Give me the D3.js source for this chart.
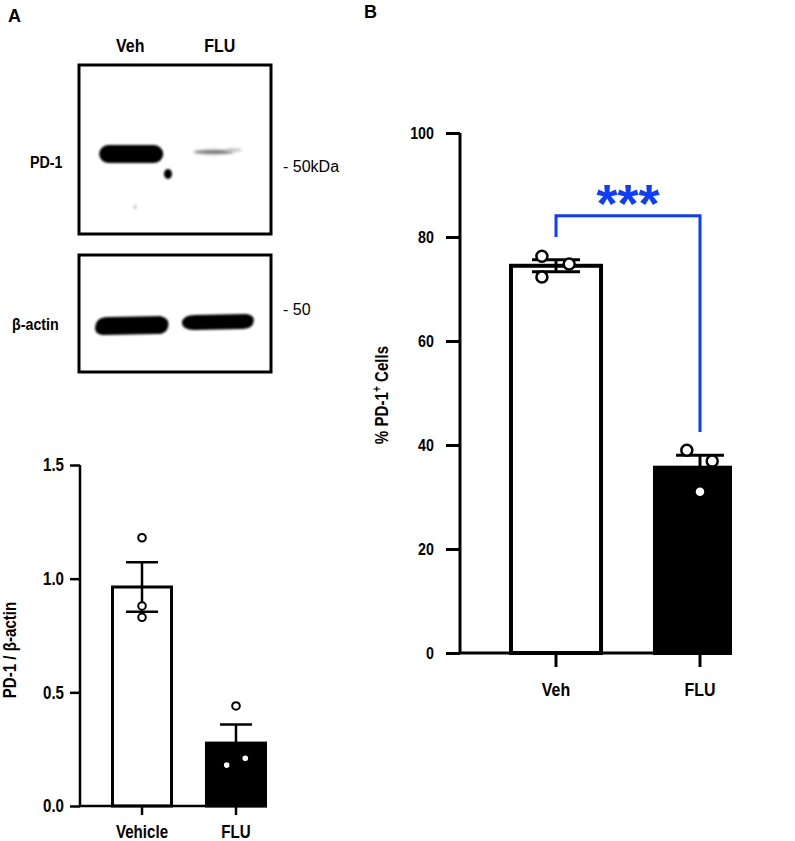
<!DOCTYPE html>
<html>
<head>
<meta charset="utf-8">
<script src="https://cdn.jsdelivr.net/npm/d3@7"></script>
<style>
  html, body { margin: 0; padding: 0; background: #fff; }
  svg { display: block; }
</style>
</head>
<body>
<div id="fig"></div>
<script>
// --- data ---
const blotLanes = ["Veh", "FLU"];

const groupsA = ["Vehicle", "FLU"];
const ratioVehicle = [1.18, 0.88, 0.83];
const ratioFlu = [0.44, 0.18, 0.21];
const ratioTicks = [0, 0.5, 1.0, 1.5];

const groupsB = ["Veh", "FLU"];
const pctVeh = [76.3, 74.8, 72.3];
const pctFlu = [39.0, 36.9, 31.0];
const pctTicks = [0, 20, 40, 60, 80, 100];

// horizontal jitter of the dots, as fraction of the bar width
const jitterA = [[0, 0, 0], [0, -0.15, 0.15]];
const jitterB = [[-0.15, 0.14, -0.15], [-0.14, 0.13, 0]];

const W = 795, H = 841;
const blue = "#0d3dff";
const font = '"Liberation Sans", Arial, sans-serif';
const SX = 0.84;   // squeeze bold text to look like a condensed face

const svg = d3.select("#fig").append("svg")
    .attr("width", W)
    .attr("height", H)
    .style("background", "#fff");

// bold condensed text: move x/y into a transform, then squeeze horizontally
function cond(sel, size, rot) {
  sel.style("font-family", font).style("font-weight", "bold").style("font-size", size + "px")
    .each(function() {
      const t = d3.select(this);
      const x = +t.attr("x") || 0, y = +t.attr("y") || 0;
      t.attr("x", 0).attr("y", 0)
       .attr("transform", `translate(${x},${y})` + (rot ? ` rotate(${rot})` : "") + ` scale(${SX},1)`);
    });
}

const defs = svg.append("defs");
defs.append("filter").attr("id", "blur").attr("x", "-20%").attr("y", "-50%").attr("width", "140%").attr("height", "200%")
  .append("feGaussianBlur").attr("stdDeviation", 1.2);
defs.append("filter").attr("id", "blur2").attr("x", "-20%").attr("y", "-100%").attr("width", "140%").attr("height", "300%")
  .append("feGaussianBlur").attr("stdDeviation", 1.6);
defs.append("clipPath").attr("id", "clipB")
  .append("rect").attr("x", 0).attr("y", 0).attr("width", 732).attr("height", H);

// panel letters
svg.append("text").attr("x", 8).attr("y", 22).text("A")
  .style("font-family", font).style("font-weight", "bold").style("font-size", "18px");
svg.append("text").attr("x", 364).attr("y", 18).text("B")
  .style("font-family", font).style("font-weight", "bold").style("font-size", "18px");

// ---------------- western blot ----------------
const lane = d3.scaleBand().domain(blotLanes).range([80, 270]).padding(0.12);
const laneC = d => lane(d) + lane.bandwidth() / 2;

svg.selectAll(".lane-label").data(blotLanes).enter().append("text")
    .attr("class", "lane-label")
    .attr("x", d => laneC(d))
    .attr("y", 52)
    .attr("text-anchor", "middle")
    .text(d => d)
    .call(cond, 19);

const blot = svg.append("g");
// boxes
blot.append("rect").attr("x", 79).attr("y", 65).attr("width", 192).attr("height", 169)
  .attr("fill", "#fff").attr("stroke", "#000").attr("stroke-width", 3);
blot.append("rect").attr("x", 79).attr("y", 255).attr("width", 192).attr("height", 117)
  .attr("fill", "#fff").attr("stroke", "#000").attr("stroke-width", 3);

// PD-1 bands
blot.append("rect").attr("x", laneC("Veh") - 31).attr("y", 145).attr("width", 64).attr("height", 18).attr("rx", 9)
  .attr("fill", "#000").attr("filter", "url(#blur)");
blot.append("ellipse").attr("cx", 168).attr("cy", 174).attr("rx", 4).attr("ry", 5)
  .attr("fill", "#000").attr("filter", "url(#blur)");
blot.append("circle").attr("cx", 135).attr("cy", 207).attr("r", 2).attr("fill", "#ccc").attr("filter", "url(#blur)");
blot.append("ellipse").attr("cx", laneC("FLU") - 6).attr("cy", 152).attr("rx", 20).attr("ry", 2.2)
  .attr("fill", "#777").attr("filter", "url(#blur2)");
blot.append("ellipse").attr("cx", laneC("FLU") + 14).attr("cy", 150).attr("rx", 8).attr("ry", 1.6)
  .attr("fill", "#bbb").attr("filter", "url(#blur2)");

// actin bands
const v = laneC("Veh"), f = laneC("FLU");
blot.append("path")
  .attr("d", `M${v - 35},327 Q${v - 34},316 ${v - 20},317 L${v + 30},316
     Q${v + 40},318 ${v + 38},327 Q${v + 36},335 ${v + 25},334
     L${v - 25},335 Q${v - 36},335 ${v - 35},327 Z`)
  .attr("fill", "#000").attr("filter", "url(#blur)");
blot.append("path")
  .attr("d", `M${f - 38},323 Q${f - 37},315 ${f - 25},315 L${f + 26},314
     Q${f + 35},315 ${f + 34},321 Q${f + 33},329 ${f + 22},329
     L${f - 26},330 Q${f - 37},330 ${f - 38},323 Z`)
  .attr("fill", "#000").attr("filter", "url(#blur)");

// row labels and markers
svg.append("text").attr("x", 30).attr("y", 168).text("PD-1").call(cond, 17);
svg.append("text").attr("x", 12).attr("y", 330).text("β-actin").call(cond, 17);
svg.append("text").attr("x", 283).attr("y", 172).text("- 50kDa")
  .style("font-family", font).style("font-size", "16px");
svg.append("text").attr("x", 283).attr("y", 315).text("- 50")
  .style("font-family", font).style("font-size", "16px");

// ---------- helpers ----------
function sem(vals) { return d3.deviation(vals) / Math.sqrt(vals.length); }

function drawBars(g, opt) {
  const {x, y, groups, series, jitter, barStroke, axisStroke, capHalf, r, dotStroke, fills} = opt;
  const bw = x.bandwidth();
  const rows = groups.map((gname, i) => ({
    name: gname, vals: series[i], mean: d3.mean(series[i]), sem: sem(series[i]), fill: fills[i], jit: jitter[i]
  }));

  g.selectAll(".bar").data(rows).enter().append("rect")
      .attr("class", "bar")
      .attr("x", d => x(d.name) + barStroke / 2)
      .attr("width", bw - barStroke)
      .attr("y", d => y(d.mean))
      .attr("height", d => y(0) - y(d.mean))
      .attr("fill", d => d.fill)
      .attr("stroke", "#000")
      .attr("stroke-width", barStroke);

  const eb = g.selectAll(".err").data(rows).enter().append("g").attr("class", "err")
      .attr("stroke", "#000").attr("stroke-width", axisStroke);
  const cx = d => x(d.name) + bw / 2;
  eb.append("line").attr("x1", cx).attr("x2", cx)
      .attr("y1", d => y(d.mean - d.sem)).attr("y2", d => y(d.mean + d.sem));
  eb.append("line").attr("x1", d => cx(d) - capHalf).attr("x2", d => cx(d) + capHalf)
      .attr("y1", d => y(d.mean + d.sem)).attr("y2", d => y(d.mean + d.sem));
  eb.append("line").attr("x1", d => cx(d) - capHalf).attr("x2", d => cx(d) + capHalf)
      .attr("y1", d => y(d.mean - d.sem)).attr("y2", d => y(d.mean - d.sem));

  rows.forEach(row => {
    g.selectAll(null).data(row.vals).enter().append("circle")
        .attr("cx", (d, j) => cx(row) + row.jit[j] * bw)
        .attr("cy", d => y(d))
        .attr("r", r)
        .attr("fill", "#fff")
        .attr("stroke", "#000")
        .attr("stroke-width", dotStroke);
  });
}

function styleAxis(sel, sw, fontSize) {
  sel.select(".domain").remove();
  sel.selectAll(".tick line").attr("stroke", "#000").attr("stroke-width", sw);
  sel.selectAll(".tick text").attr("fill", "#000").call(cond, fontSize);
}

// ---------------- panel A bar chart ----------------
const yA = d3.scaleLinear().domain([0, 1.5]).range([806, 465]);
const xA = d3.scaleBand().domain(groupsA).range([111, 267]).paddingInner(0.34).paddingOuter(0);
const gA = svg.append("g");

drawBars(gA, {
  x: xA, y: yA, groups: groupsA, series: [ratioVehicle, ratioFlu], jitter: jitterA,
  barStroke: 3, axisStroke: 2.5, capHalf: 16, r: 3.8, dotStroke: 2, fills: ["#fff", "#000"]
});

const axA = gA.append("g").attr("transform", "translate(80,0)")
    .call(d3.axisLeft(yA).tickValues(ratioTicks).tickFormat(d3.format(".1f")).tickSize(10).tickPadding(6));
styleAxis(axA, 2.5, 18);
const axAx = gA.append("g").attr("transform", "translate(0,806)")
    .call(d3.axisBottom(xA).tickSize(9).tickPadding(10));
styleAxis(axAx, 2.5, 18);
gA.append("line").attr("x1", 80).attr("x2", 80).attr("y1", 465).attr("y2", 806)
  .attr("stroke", "#000").attr("stroke-width", 2.5);
gA.append("line").attr("x1", 80).attr("x2", 267).attr("y1", 806).attr("y2", 806)
  .attr("stroke", "#000").attr("stroke-width", 2.5);

gA.append("text")
    .attr("x", 16).attr("y", 650)
    .attr("text-anchor", "middle")
    .text("PD-1 / β-actin")
    .call(cond, 18, -90);

// ---------------- panel B bar chart ----------------
const yB = d3.scaleLinear().domain([0, 100]).range([653, 133]);
const xB = d3.scaleBand().domain(groupsB).range([509, 747]).paddingInner(0.347).paddingOuter(0);
const gB = svg.append("g").attr("clip-path", "url(#clipB)");

drawBars(gB, {
  x: xB, y: yB, groups: groupsB, series: [pctVeh, pctFlu], jitter: jitterB,
  barStroke: 4, axisStroke: 3, capHalf: 24, r: 5.5, dotStroke: 2.5, fills: ["#fff", "#000"]
});

const axB = gB.append("g").attr("transform", "translate(460,0)")
    .call(d3.axisLeft(yB).tickValues(pctTicks).tickSize(14).tickPadding(12));
styleAxis(axB, 3, 17);
const axBx = gB.append("g").attr("transform", "translate(0,653)")
    .call(d3.axisBottom(xB).tickSize(14).tickPadding(15));
styleAxis(axBx, 3, 19);
gB.append("line").attr("x1", 460).attr("x2", 460).attr("y1", 133).attr("y2", 653)
  .attr("stroke", "#000").attr("stroke-width", 3);
gB.append("line").attr("x1", 460).attr("x2", 747).attr("y1", 653).attr("y2", 653)
  .attr("stroke", "#000").attr("stroke-width", 3);

// significance bracket
const cB = d => xB(d) + xB.bandwidth() / 2;
gB.append("path")
    .attr("d", `M${cB("Veh")},${yB(80)} V${yB(84.1)} H${cB("FLU")} V${yB(42.5)}`)
    .attr("fill", "none").attr("stroke", blue).attr("stroke-width", 3);
gB.append("text")
    .attr("x", (cB("Veh") + cB("FLU")) / 2)
    .attr("y", 222)
    .attr("text-anchor", "middle")
    .attr("fill", blue)
    .style("font-family", font).style("font-weight", "bold").style("font-size", "54px")
    .text("***");

const lab = gB.append("text")
    .attr("x", 388).attr("y", 395)
    .attr("text-anchor", "middle");
lab.append("tspan").text("% PD-1");
lab.append("tspan").attr("dy", -7).style("font-size", "12px").text("+");
lab.append("tspan").attr("dy", 7).text(" Cells");
lab.call(cond, 18, -90);
</script>
</body>
</html>
